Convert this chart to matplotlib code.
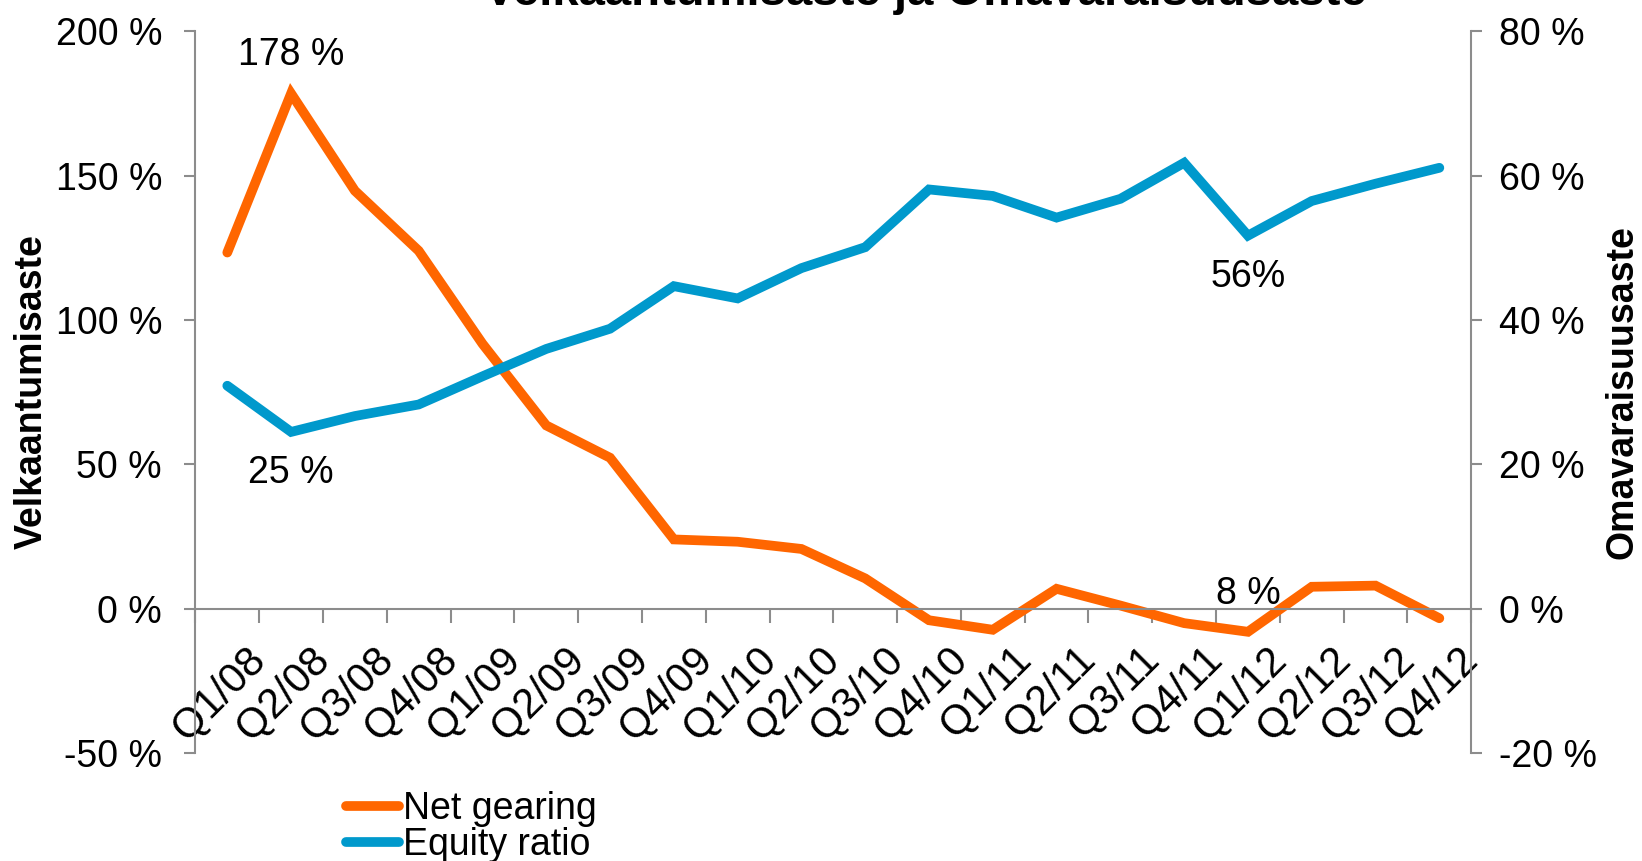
import matplotlib
matplotlib.use('Agg')
import matplotlib.pyplot as plt
import matplotlib.transforms as mtrans
import numpy as np

plt.rcParams['font.family'] = ['Liberation Sans', 'DejaVu Sans']

quarters = ['Q1/08', 'Q2/08', 'Q3/08', 'Q4/08', 'Q1/09', 'Q2/09', 'Q3/09', 'Q4/09',
            'Q1/10', 'Q2/10', 'Q3/10', 'Q4/10', 'Q1/11', 'Q2/11', 'Q3/11', 'Q4/11',
            'Q1/12', 'Q2/12', 'Q3/12', 'Q4/12']
net_gearing = [123.4, 178.5, 144.8, 124.0, 91.8, 63.5, 52.3, 24.0, 23.2, 20.7,
               10.5, -4.0, -7.3, 6.9, 1.1, -5.0, -8.0, 7.6, 8.0, -3.3]
equity_ratio = [30.9, 24.5, 26.7, 28.3, 32.2, 36.0, 38.8, 44.7, 43.0, 47.2,
                50.1, 58.1, 57.2, 54.2, 56.8, 61.8, 51.7, 56.5, 58.9, 61.1]
left_ticks = [-50, 0, 50, 100, 150, 200]
right_ticks = [-20, 0, 20, 40, 60, 80]
# (text, category index, left-axis value)
annotations = [('178 %', 1, 192), ('25 %', 1, 47), ('56%', 16, 115), ('8 %', 16, 5)]

ORANGE = '#FF6600'
BLUE = '#0099CC'
GRAY = '#8C8C8C'
FS = 27

fig = plt.figure(figsize=(16.42, 8.61), dpi=100)
ax = fig.add_axes([0.119, 0.1254, 0.777, 0.8381])
ax2 = ax.twinx()

x = np.arange(len(quarters))
l1, = ax.plot(x, net_gearing, color=ORANGE, lw=7, solid_capstyle='round',
              solid_joinstyle='miter', label='Net gearing')
l2, = ax2.plot(x, equity_ratio, color=BLUE, lw=7, solid_capstyle='round',
               solid_joinstyle='miter', label='Equity ratio')

ax.set_xlim(-0.5, len(quarters) - 0.5)
ax.set_ylim(-50, 200)
ax2.set_ylim(-20, 80)

for a in (ax, ax2):
    a.spines['top'].set_visible(False)
    for s in a.spines.values():
        s.set_color(GRAY)
        s.set_linewidth(1.5)
ax.spines['right'].set_visible(False)
ax2.spines['left'].set_visible(False)
ax2.spines['bottom'].set_visible(False)
ax.spines['bottom'].set_position(('data', 0))

ax.set_yticks(left_ticks)
ax.set_yticklabels([f'{v} %' for v in left_ticks])
ax2.set_yticks(right_ticks)
ax2.set_yticklabels([f'{v} %' for v in right_ticks])
ax.tick_params(axis='y', labelsize=FS, color=GRAY, length=8, width=1.5, pad=16)
ax2.tick_params(axis='y', labelsize=FS, color=GRAY, length=8, width=1.5, pad=12)

ax.set_xticks(np.arange(-0.5, len(quarters), 1))
ax.set_xticklabels([])
ax.set_xticks(x, minor=True)
ax.set_xticklabels(quarters, minor=True, rotation=45, ha='right',
                   va='center', rotation_mode='anchor', fontsize=30)
ax.tick_params(axis='x', which='major', direction='out', length=10,
               width=1.5, color=GRAY)
ax.tick_params(axis='x', which='minor', length=0, pad=32)
shift = mtrans.ScaledTranslation(32 / 100, 0, fig.dpi_scale_trans)
for lbl in ax.get_xticklabels(minor=True):
    lbl.set_transform(lbl.get_transform() + shift)

fig.text(0.0191, 0.545, 'Velkaantumisaste', fontsize=FS, fontweight='bold',
         rotation=90, ha='center', va='center')
fig.text(0.9884, 0.545, 'Omavaraisuusaste', fontsize=FS, fontweight='bold',
         rotation=90, ha='center', va='center')

for text, xi, yv in annotations:
    ax.text(xi, yv, text, fontsize=FS, ha='center', va='center')

fig.text(0.5635, 0.994, 'Velkaantumisaste ja Omavaraisuusaste', fontsize=34,
         fontweight='bold', ha='center', va='baseline')

fig.legend(handles=[l1, l2], loc='upper left', bbox_to_anchor=(0.211, 0.081),
           frameon=False, fontsize=FS, handlelength=1.4, handletextpad=0.1,
           labelspacing=0.0, borderaxespad=0, borderpad=0)

fig.savefig('out.png', dpi=100)
